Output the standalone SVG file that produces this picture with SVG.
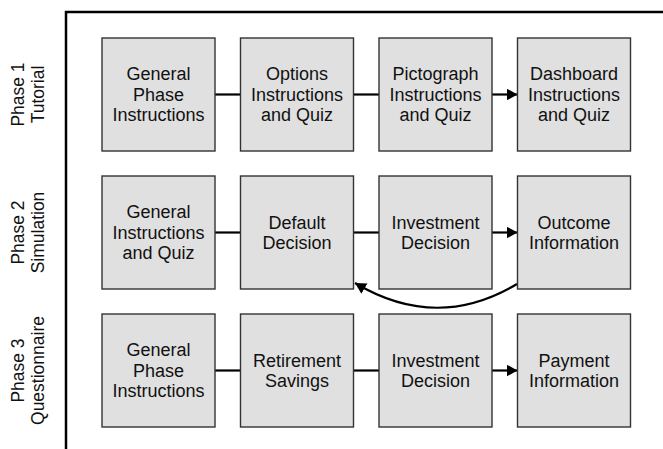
<svg xmlns="http://www.w3.org/2000/svg" width="663" height="449" viewBox="0 0 663 449">
  <style>
    .box { fill: #e0e0e0; stroke: #333333; stroke-width: 1.4; }
    .lbl { font-family: "Liberation Sans", Arial, sans-serif; font-size: 18px; fill: #111111; text-anchor: middle; }
    .phase { font-family: "Liberation Sans", Arial, sans-serif; font-size: 17.5px; fill: #111111; text-anchor: middle; }
    .edge { fill: none; stroke: #000000; stroke-width: 2.2; }
    .frame { fill: none; stroke: #000000; stroke-width: 2.5; }
  </style>
  <defs>
    <marker id="arrow" markerWidth="11" markerHeight="12" refX="11" refY="6" orient="auto" markerUnits="userSpaceOnUse">
      <path d="M0,0 L11,6 L0,12 Z" fill="#000000"/>
    </marker>
  </defs>

  <rect width="663" height="449" fill="#ffffff"/>

  <!-- frame -->
  <path class="frame" d="M66,449 L66,12 L663,12"/>

  <!-- phase labels -->
  <g id="phase1">
    <text class="phase" transform="translate(24,94.5) rotate(-90)"><tspan x="0" y="0">Phase 1</tspan><tspan x="0" y="20">Tutorial</tspan></text>
  </g>
  <g id="phase2">
    <text class="phase" transform="translate(24,232.5) rotate(-90)"><tspan x="0" y="0">Phase 2</tspan><tspan x="0" y="20">Simulation</tspan></text>
  </g>
  <g id="phase3">
    <text class="phase" transform="translate(24,370.5) rotate(-90)"><tspan x="0" y="0">Phase 3</tspan><tspan x="0" y="20">Questionnaire</tspan></text>
  </g>

  <!-- connectors -->
  <g id="connectors">
    <line class="edge" x1="215" y1="94.5" x2="240.5" y2="94.5"/>
    <line class="edge" x1="353.5" y1="94.5" x2="379" y2="94.5"/>
    <line class="edge" x1="492" y1="94.5" x2="517.5" y2="94.5" marker-end="url(#arrow)"/>

    <line class="edge" x1="215" y1="232.5" x2="240.5" y2="232.5"/>
    <line class="edge" x1="353.5" y1="232.5" x2="379" y2="232.5"/>
    <line class="edge" x1="492" y1="232.5" x2="517.5" y2="232.5" marker-end="url(#arrow)"/>
    <path class="edge" d="M517,284 Q437,332 355,283" marker-end="url(#arrow)"/>

    <line class="edge" x1="215" y1="370.5" x2="240.5" y2="370.5"/>
    <line class="edge" x1="353.5" y1="370.5" x2="379" y2="370.5"/>
    <line class="edge" x1="492" y1="370.5" x2="517.5" y2="370.5" marker-end="url(#arrow)"/>
  </g>

  <!-- row 1 -->
  <g id="p1-general">
    <rect class="box" x="102" y="38" width="113" height="113"/>
    <text class="lbl"><tspan x="158.5" y="80">General</tspan><tspan x="158.5" y="100.5">Phase</tspan><tspan x="158.5" y="121">Instructions</tspan></text>
  </g>
  <g id="p1-options">
    <rect class="box" x="240.5" y="38" width="113" height="113"/>
    <text class="lbl"><tspan x="297" y="80">Options</tspan><tspan x="297" y="100.5">Instructions</tspan><tspan x="297" y="121">and Quiz</tspan></text>
  </g>
  <g id="p1-pictograph">
    <rect class="box" x="379" y="38" width="113" height="113"/>
    <text class="lbl"><tspan x="435.5" y="80">Pictograph</tspan><tspan x="435.5" y="100.5">Instructions</tspan><tspan x="435.5" y="121">and Quiz</tspan></text>
  </g>
  <g id="p1-dashboard">
    <rect class="box" x="517.5" y="38" width="113" height="113"/>
    <text class="lbl"><tspan x="574" y="80">Dashboard</tspan><tspan x="574" y="100.5">Instructions</tspan><tspan x="574" y="121">and Quiz</tspan></text>
  </g>

  <!-- row 2 -->
  <g id="p2-general">
    <rect class="box" x="102" y="176" width="113" height="113"/>
    <text class="lbl"><tspan x="158.5" y="218">General</tspan><tspan x="158.5" y="238.5">Instructions</tspan><tspan x="158.5" y="259">and Quiz</tspan></text>
  </g>
  <g id="p2-default">
    <rect class="box" x="240.5" y="176" width="113" height="113"/>
    <text class="lbl"><tspan x="297" y="229">Default</tspan><tspan x="297" y="249">Decision</tspan></text>
  </g>
  <g id="p2-investment">
    <rect class="box" x="379" y="176" width="113" height="113"/>
    <text class="lbl"><tspan x="435.5" y="229">Investment</tspan><tspan x="435.5" y="249">Decision</tspan></text>
  </g>
  <g id="p2-outcome">
    <rect class="box" x="517.5" y="176" width="113" height="113"/>
    <text class="lbl"><tspan x="574" y="229">Outcome</tspan><tspan x="574" y="249">Information</tspan></text>
  </g>

  <!-- row 3 -->
  <g id="p3-general">
    <rect class="box" x="102" y="314" width="113" height="113"/>
    <text class="lbl"><tspan x="158.5" y="356">General</tspan><tspan x="158.5" y="376.5">Phase</tspan><tspan x="158.5" y="397">Instructions</tspan></text>
  </g>
  <g id="p3-retirement">
    <rect class="box" x="240.5" y="314" width="113" height="113"/>
    <text class="lbl"><tspan x="297" y="367">Retirement</tspan><tspan x="297" y="387">Savings</tspan></text>
  </g>
  <g id="p3-investment">
    <rect class="box" x="379" y="314" width="113" height="113"/>
    <text class="lbl"><tspan x="435.5" y="367">Investment</tspan><tspan x="435.5" y="387">Decision</tspan></text>
  </g>
  <g id="p3-payment">
    <rect class="box" x="517.5" y="314" width="113" height="113"/>
    <text class="lbl"><tspan x="574" y="367">Payment</tspan><tspan x="574" y="387">Information</tspan></text>
  </g>
</svg>
